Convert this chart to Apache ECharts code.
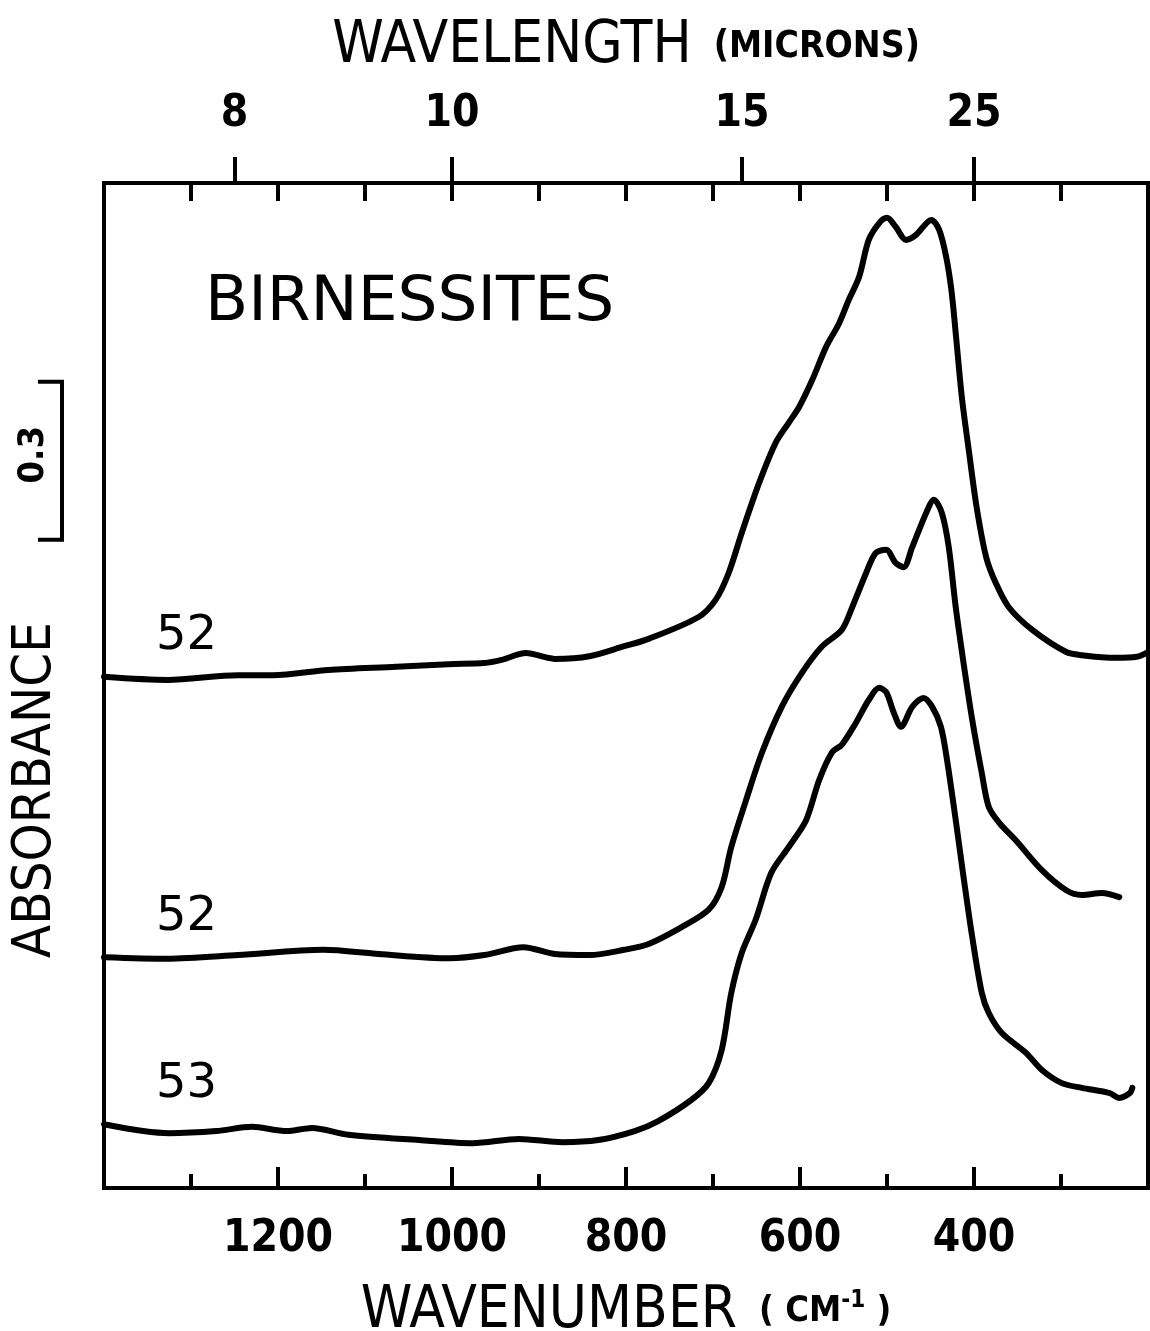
<!DOCTYPE html>
<html><head><meta charset="utf-8">
<script src="https://cdn.jsdelivr.net/npm/echarts@6.0.0/dist/echarts.min.js"></script>
<style>html,body{margin:0;padding:0;background:#fff}#c{width:1150px;height:1331px}</style>
</head><body><div id="c"></div>
<script>
// ---- data (wavenumber cm-1, absorbance offset) ----
const wavenumberTop = [1400,1327,1246,1206,1142,1064,1004,963,943,915,882,842,802,774,717,697,682,667,647,628,613,601,586,570,555,544,532,521,509,500,490,478,467,449,440,432,426,421,414,406,397,386,375,360,333,294,276,237,213,200];
const absorbanceTop = [0.970,0.964,0.973,0.973,0.983,0.989,0.994,0.996,1.002,1.015,1.004,1.009,1.028,1.042,1.083,1.116,1.167,1.243,1.338,1.414,1.452,1.482,1.533,1.596,1.641,1.685,1.729,1.799,1.831,1.841,1.824,1.799,1.808,1.837,1.818,1.767,1.704,1.622,1.501,1.400,1.292,1.197,1.148,1.102,1.059,1.017,1.011,1.006,1.008,1.017];

const wavenumberMid = [1400,1327,1246,1148,1084,1003,963,918,882,842,802,774,736,705,690,679,662,644,621,598,575,552,540,524,513,501,490,481,471,455,446,437,429,421,412,402,391,383,371,352,322,294,276,253,233];
const absorbanceMid = [0.438,0.435,0.442,0.452,0.444,0.436,0.442,0.457,0.444,0.442,0.452,0.463,0.495,0.528,0.571,0.647,0.736,0.825,0.913,0.977,1.027,1.059,1.102,1.167,1.205,1.211,1.186,1.178,1.216,1.281,1.306,1.281,1.216,1.102,0.996,0.888,0.787,0.723,0.693,0.660,0.603,0.565,0.556,0.560,0.552];

const wavenumberBot = [1400,1325,1271,1230,1190,1161,1119,1038,976,923,873,832,790,763,725,705,690,679,667,651,633,613,593,578,563,552,536,521,509,501,492,484,471,458,448,438,431,421,412,402,391,383,368,340,322,299,276,244,233,221,218];
const absorbanceBot = [0.121,0.104,0.108,0.116,0.108,0.114,0.101,0.091,0.085,0.093,0.087,0.091,0.108,0.127,0.167,0.199,0.262,0.370,0.446,0.509,0.598,0.647,0.698,0.774,0.827,0.841,0.882,0.926,0.949,0.941,0.901,0.875,0.913,0.930,0.913,0.875,0.812,0.698,0.590,0.476,0.370,0.332,0.294,0.256,0.224,0.199,0.190,0.180,0.171,0.180,0.190];

const seriesLabels = ['52', '52', '53'];
const wavenumberTickLabels = [1200, 1000, 800, 600, 400];
const wavelengthTickLabels = [8, 10, 15, 25];   // microns
const scaleBarTop = 1.53;
const scaleBarSize = 0.3;
const wavenumberMin = 200, wavenumberMax = 1400;
const absorbanceMax = 1.907;
// -------------------------------------------------------------------------

const FONT = '"DejaVu Sans Condensed","DejaVu Sans",sans-serif';
const zip = (a, b) => a.map((v, i) => [v, b[i]]);

const chart = echarts.init(document.getElementById('c'), null, {renderer: 'canvas'});

const lineSeries = (x, y) => ({
  type: 'line', xAxisIndex: 0, yAxisIndex: 0,
  data: zip(x, y), showSymbol: false, smooth: 0.3,
  lineStyle: {color: '#000', width: 6, cap: 'round', join: 'round'},
  silent: true, animation: false
});

chart.setOption({
  backgroundColor: '#fff',
  animation: false,
  grid: {left: 104, right: 2, top: 183, bottom: 143, outerBoundsMode: 'none', containLabel: false,
         show: true, borderColor: '#000', borderWidth: 4, backgroundColor: 'transparent'},
  xAxis: [
    {
      type: 'value', position: 'bottom', inverse: true,
      min: wavenumberMin, max: wavenumberMax, interval: 200,
      axisLine: {show: false},
      axisTick: {show: true, inside: true, length: 21, lineStyle: {color: '#000', width: 4}},
      minorTick: {show: true, splitNumber: 2, length: 14, lineStyle: {color: '#000', width: 4}},
      splitLine: {show: false}, minorSplitLine: {show: false},
      axisLabel: {
        customValues: wavenumberTickLabels,
        formatter: v => String(v),
        fontSize: 44, fontWeight: 'bold', fontFamily: FONT, color: '#000', margin: 30
      },
      name: '{a|WAVENUMBER}{p|( CM}{s|-1}{b| )}',
      nameLocation: 'middle', nameGap: 95,
      nameTextStyle: {
        color: '#000',
        rich: {
          a: {fontSize: 58, fontFamily: FONT, fontWeight: 'normal', color: '#000', verticalAlign: 'middle'},
          p: {fontSize: 36, fontFamily: FONT, fontWeight: 'bold', color: '#000', verticalAlign: 'middle', padding: [0, 0, 0, 22]},
          b: {fontSize: 36, fontFamily: FONT, fontWeight: 'bold', color: '#000', verticalAlign: 'middle'},
          s: {fontSize: 24, fontFamily: FONT, fontWeight: 'bold', color: '#000', verticalAlign: 'middle', padding: [0, 0, 22, 0]}
        }
      }
    },
    {
      type: 'value', position: 'top', inverse: true,
      min: wavenumberMin, max: wavenumberMax, interval: 100,
      axisLine: {show: false},
      axisTick: {show: true, inside: true, length: 18, lineStyle: {color: '#000', width: 4}},
      axisLabel: {show: false}, splitLine: {show: false}
    },
    {
      type: 'value', position: 'top', inverse: true,
      min: wavenumberMin, max: wavenumberMax,
      axisLine: {show: false},
      axisTick: {show: true, inside: false, length: 26, customValues: wavelengthTickLabels.map(m => 1e4 / m), lineStyle: {color: '#000', width: 4}},
      axisLabel: {
        customValues: wavelengthTickLabels.map(m => 1e4 / m),
        formatter: v => String(Math.round(1e4 / v)),
        fontSize: 44, fontWeight: 'bold', fontFamily: FONT, color: '#000', margin: 46
      },
      splitLine: {show: false},
      name: '{a|WAVELENGTH}{b|(MICRONS)}',
      nameLocation: 'middle', nameGap: 107,
      nameTextStyle: {
        color: '#000',
        rich: {
          a: {fontSize: 58, fontFamily: FONT, fontWeight: 'normal', color: '#000', verticalAlign: 'middle'},
          b: {fontSize: 37, fontFamily: FONT, fontWeight: 'bold', color: '#000', verticalAlign: 'middle', padding: [0, 0, 0, 22]}
        }
      }
    }
  ],
  yAxis: [{
    type: 'value', min: 0, max: absorbanceMax,
    axisLine: {show: false}, axisTick: {show: false}, axisLabel: {show: false}, splitLine: {show: false}
  }],
  series: [
    lineSeries(wavenumberTop, absorbanceTop),
    lineSeries(wavenumberMid, absorbanceMid),
    lineSeries(wavenumberBot, absorbanceBot)
  ]
});

// annotations positioned through the axes
const px = (x, y) => chart.convertToPixel({xAxisIndex: 0, yAxisIndex: 0}, [x, y]);
const yTop = chart.convertToPixel({yAxisIndex: 0}, scaleBarTop);
const yBot = chart.convertToPixel({yAxisIndex: 0}, scaleBarTop - scaleBarSize);
const starts = [absorbanceTop[0], absorbanceMid[0], absorbanceBot[0]];
const labelEls = seriesLabels.map((t, i) => {
  const p = px(wavenumberMax, starts[i]);
  return {type: 'text', x: p[0] + 52, y: p[1] - 40,
    style: {text: t, font: 'normal 48px "DejaVu Sans",sans-serif', fill: '#000', textAlign: 'left', textVerticalAlign: 'middle'}};
});

chart.setOption({
  graphic: [
    {type: 'text', x: 205, y: 304,
     style: {text: 'BIRNESSITES', font: 'normal 63px "DejaVu Sans",sans-serif', fill: '#000', textAlign: 'left', textVerticalAlign: 'middle'}},
    ...labelEls,
    {type: 'text', x: 36, y: 790, rotation: Math.PI / 2,
     style: {text: 'ABSORBANCE', font: 'normal 54px ' + FONT, fill: '#000', textAlign: 'center', textVerticalAlign: 'middle'}},
    {type: 'polyline', shape: {points: [[38, yTop], [62, yTop], [62, yBot], [38, yBot]]},
     style: {stroke: '#000', lineWidth: 4, fill: null}},
    {type: 'text', x: 34, y: (yTop + yBot) / 2 - 6, rotation: Math.PI / 2,
     style: {text: '0.3', font: 'bold 36px ' + FONT, fill: '#000', textAlign: 'center', textVerticalAlign: 'middle'}}
  ]
});
</script>
</body></html>
